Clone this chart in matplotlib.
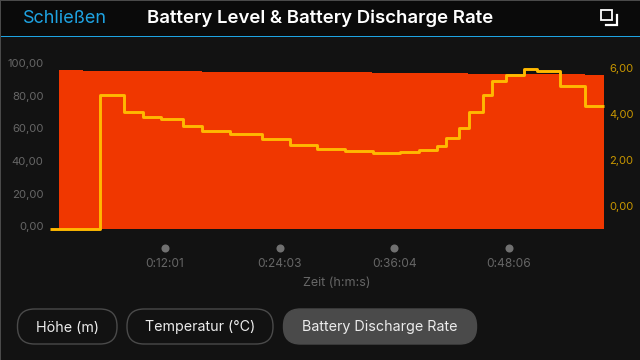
"""
Battery level and discharge rate, activity chart screen.
"""

import matplotlib

matplotlib.use("Agg")
import matplotlib.pyplot as plt
from matplotlib.patches import FancyBboxPatch, Rectangle
from matplotlib.transforms import ScaledTranslation

# battery level [%]
level_time = [54, 205, 583, 954, 1507, 2023, 2432, 2627, 3017, 3363, 3483]
level_vals = [96.9, 96.6, 96.3, 96.0, 95.7, 95.3, 95.0, 94.7, 94.3, 93.9, 93.6]

# discharge rate, each value holds until the next time
rate_time = [0, 315, 463, 583, 696, 834, 954, 1130, 1331, 1507, 1677, 1853, 2030,
             2199, 2319, 2432, 2489, 2570, 2633, 2721, 2778, 2866, 2979, 3061,
             3206, 3363, 3483]
rate_vals = [-1.02, 4.80, 4.02, 3.83, 3.74, 3.43, 3.22, 3.09, 2.87, 2.61, 2.43, 2.35,
             2.26, 2.29, 2.41, 2.57, 2.89, 3.33, 4.02, 4.80, 5.39, 5.63, 5.89, 5.83,
             5.15, 4.28, 4.28]

time_ticks = [721, 1443, 2164, 2886]
time_labels = ["0:12:01", "0:24:03", "0:36:04", "0:48:06"]
level_ticks = [0, 20, 40, 60, 80, 100]
rate_ticks = [0, 2, 4, 6]

BG = "#121212"
HEADER = "#0a0a0a"
BLUE = "#1ea3e2"
ORANGE = "#f03700"
YELLOW = "#ffb900"
GREY = "#666666"
W, H = 640, 360


def decimal_comma(values):
    return [f"{v:.2f}".replace(".", ",") for v in values]


def draw_screen(fig):
    # everything around the chart, in pixel coordinates
    ui = fig.add_axes([0, 0, 1, 1], zorder=0)
    ui.set_xlim(0, W)
    ui.set_ylim(H, 0)
    ui.axis("off")
    ui.add_patch(Rectangle((0, 0), W, 36, color=HEADER, lw=0))
    ui.add_patch(Rectangle((0, 36), W, 1.2, color=BLUE, lw=0))
    ui.add_patch(Rectangle((0, 0), W, 1, color="#4a4a4a", lw=0))
    ui.add_patch(Rectangle((0, 0), 1, H, color="#4a4a4a", lw=0))
    ui.text(23, 18.5, "Schließen", color=BLUE, fontsize=13, va="center")
    ui.text(320, 18.5, "Battery Level & Battery Discharge Rate", color="white",
            fontsize=13.4, fontweight="semibold", va="center", ha="center")

    # expand icon
    ui.add_patch(Rectangle((600.5, 9.5), 11, 10, fill=False, ec="white", lw=1.3))
    ui.plot([606, 617, 617], [25, 25, 15], color="white", lw=1.6, solid_joinstyle="miter")

    buttons = [
        (17.5, 117, "Höhe (m)", False),
        (127, 273, "Temperatur (°C)", False),
        (283.5, 476.5, "Battery Discharge Rate", True),
    ]
    for x0, x1, label, active in buttons:
        box = FancyBboxPatch((x0 + 17, 309 + 17), x1 - x0 - 34, 1,
                             boxstyle="round,pad=17,rounding_size=17",
                             fc="#4a4a4a" if active else "none",
                             ec="#4a4a4a", lw=1.0)
        ui.add_patch(box)
        ui.text((x0 + x1) / 2, 327.5, label, color="#ececec", fontsize=10.3,
                ha="center", va="center")


def plot_chart(fig):
    # left/right/bottom/top edges set so that the axis scales line up with the screen
    ax = fig.add_axes([50.4 / W, (H - 228.5) / H, 553.6 / W, 168.5 / H], zorder=1)
    ax.patch.set_alpha(0)
    ax.set_xlim(0, 3483)
    ax.set_ylim(0, 103.06)
    ax.fill_between(level_time, level_vals, 0, step="post", color=ORANGE, lw=0)

    ax.set_yticks(level_ticks, decimal_comma(level_ticks))
    ax.tick_params(axis="y", length=0, pad=4.8, labelsize=8.2, labelcolor=GREY)
    up = ScaledTranslation(0, 1.44 / 72, fig.dpi_scale_trans)
    for label in ax.get_yticklabels():
        label.set_transform(label.get_transform() + up)

    ax.set_xticks(time_ticks, time_labels)
    ax.tick_params(axis="x", length=0, pad=21, labelsize=8.6, labelcolor=GREY)
    ax.plot(time_ticks, [-0.113] * len(time_ticks), "o", ms=5.8, color="#707070",
            mec="none", clip_on=False, transform=ax.get_xaxis_transform())
    ax.set_xlabel("Zeit (h:m:s)", color=GREY, fontsize=9)
    ax.xaxis.set_label_coords(0.518, -0.285)

    ax2 = ax.twinx()
    ax2.set_ylim(-1.02, 6.30)
    ax2.step(rate_time, rate_vals, where="post", color=YELLOW, lw=2.1, clip_on=False,
             solid_joinstyle="round", solid_capstyle="butt")
    ax2.set_yticks(rate_ticks, decimal_comma(rate_ticks))
    ax2.tick_params(axis="y", length=0, pad=4, labelsize=8, labelcolor="#c99700")
    down = ScaledTranslation(0, -0.7 / 72, fig.dpi_scale_trans)
    for label in ax2.get_yticklabels():
        label.set_transform(label.get_transform() + down)

    for a in (ax, ax2):
        for spine in a.spines.values():
            spine.set_visible(False)
    return ax, ax2


def main():
    plt.rcParams["font.family"] = ["Inter", "DejaVu Sans"]
    fig = plt.figure(figsize=(W / 100, H / 100), dpi=100, facecolor=BG)
    draw_screen(fig)
    plot_chart(fig)
    fig.savefig("out.png", dpi=100, facecolor=BG)


if __name__ == "__main__":
    main()
